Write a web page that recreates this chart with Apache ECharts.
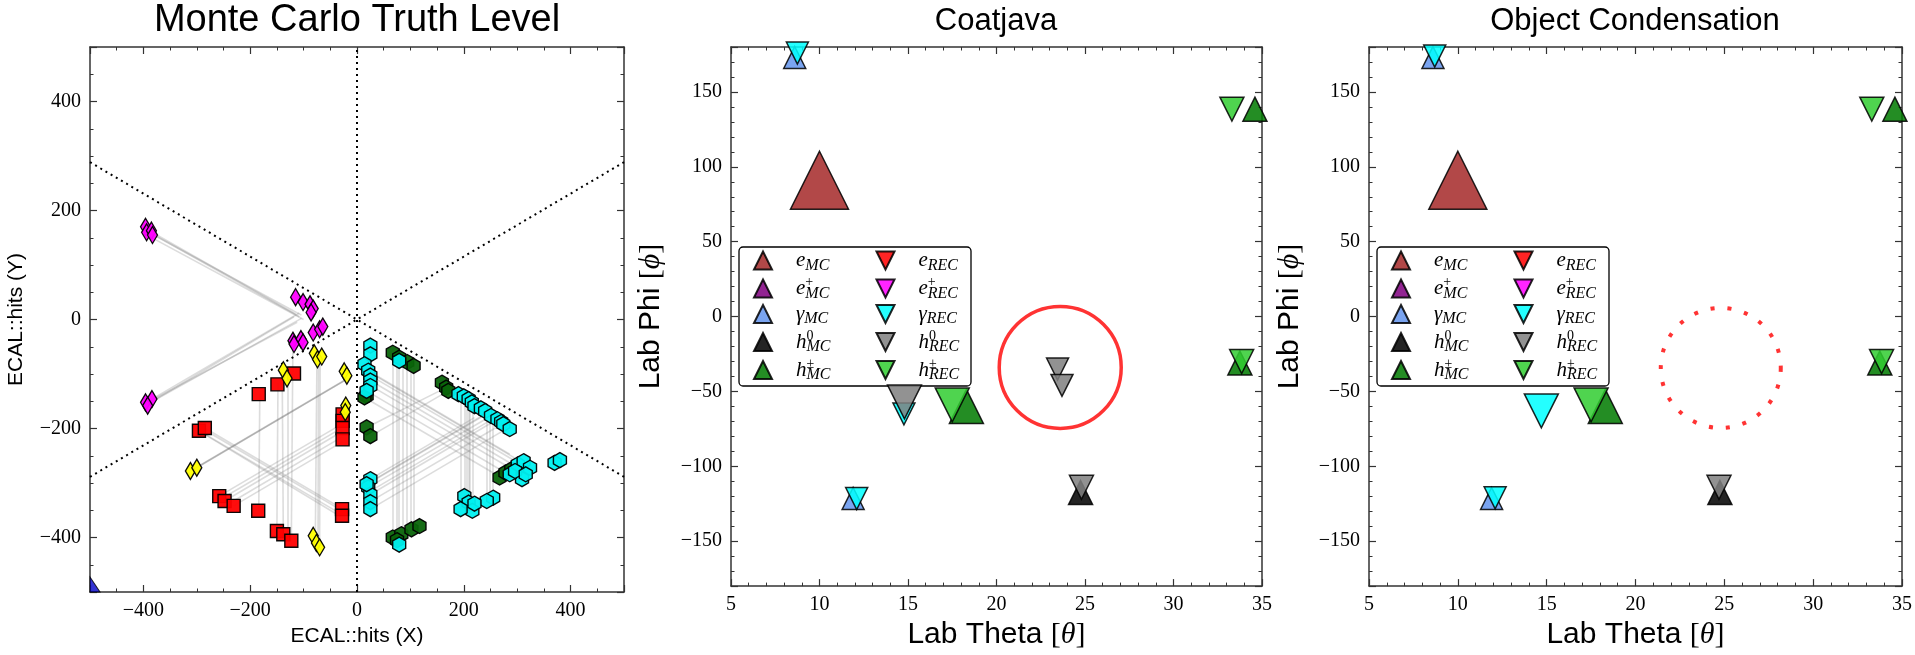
<!DOCTYPE html>
<html>
<head>
<meta charset="utf-8">
<title>ECAL hits: MC truth vs Coatjava vs Object Condensation</title>
<script src="https://cdn.jsdelivr.net/npm/echarts@6/dist/echarts.min.js"></script>
<style>
  html, body { margin: 0; padding: 0; background: #fff; }
  #chart { width: 1915px; height: 655px; }
</style>
</head>
<body>
<div id="chart"></div>
<script>
// ---------- panel 1: ECAL hits (x, y) per MC particle ----------
const redHits = [
  [-118, -99], [-149, -119], [-184, -137], [-296, -204], [-285, -199],
  [-27, -174], [-27, -186], [-27, -199], [-27, -220],
  [-258, -324], [-248, -333], [-231, -342], [-185, -351],
  [-150, -388], [-138, -394], [-123, -406], [-28, -348], [-28, -360]
]
const yellowHits = [
  [-80, -62], [-74, -73], [-66, -68], [-24, -95], [-19, -103],
  [-138, -93], [-131, -108], [-21, -158], [-22, -170],
  [-312, -278], [-300, -272], [-82, -397], [-76, -410], [-70, -418]
]
const magentaHits = [
  [-396, 170], [-394, 160], [-385, 163], [-383, 155],
  [-115, 41], [-101, 32], [-88, 28], [-82, 20], [-86, 13],
  [-120, -39], [-105, -36], [-101, -42], [-118, -45], [-82, -24], [-70, -18], [-64, -13],
  [-396, -152], [-384, -146], [-392, -158]
]
const cyanHits = [
  [25, -48], [25, -64], [14, -82], [21, -94], [25, -103], [25, -112], [25, -122], [18, -131], [79, -76],
  [190, -137], [200, -141], [209, -146], [215, -152], [220, -159], [232, -163], [240, -168],
  [251, -177], [263, -183], [270, -188], [274, -192], [286, -201],
  [301, -266], [312, -260], [324, -272], [309, -293], [286, -284], [296, -278], [316, -284],
  [370, -263], [380, -258],
  [201, -324], [209, -336], [216, -351], [194, -348], [255, -327], [243, -333], [220, -338],
  [25, -293], [21, -308], [25, -321], [25, -335], [25, -348], [18, -302], [79, -413]
]
const greenHits = [
  [67, -61], [79, -70], [94, -78], [106, -85], [18, -140], [14, -143],
  [18, -198], [25, -214], [159, -116], [167, -125], [171, -131],
  [267, -290], [278, -281], [289, -275],
  [67, -400], [83, -394], [102, -385], [117, -379], [75, -405]
]
const blueHits = [[-500, -500]]

// matched hit pairs between views [x1, y1, x2, y2]
const hitLinks = [
  [-392, 165, -115, 10], [-385, 158, -108, 5], [-388, 152, -100, 0], [-390, 160, -104, 8],
  [-392, -155, -118, 5], [-384, -146, -108, 12], [-388, -150, -112, -5], [-386, -152, -104, 2],
  [-182, -135, -184, -351], [-148, -117, -150, -388], [-140, -110, -138, -394], [-130, -100, -130, -400],
  [-120, -40, -123, -406], [-75, -70, -78, -397], [-69, -65, -70, -418], [-72, -68, -73, -408],
  [-296, -204, -28, -358], [-285, -199, -28, -347], [-290, -208, -30, -362], [-290, -200, -24, -353],
  [-312, -278, -21, -110], [-300, -272, -25, -113], [-306, -275, -18, -109],
  [-258, -324, -27, -191], [-248, -333, -27, -205], [-231, -342, -27, -224],
  [-252, -328, -25, -197], [-240, -338, -27, -215],
  [67, -61, 67, -400], [79, -70, 79, -413], [94, -78, 94, -385], [106, -85, 106, -379], [75, -66, 75, -405],
  [86, -72, 86, -395], [100, -80, 100, -382],
  [194, -137, 194, -348], [201, -141, 201, -324], [209, -146, 209, -336],
  [216, -152, 216, -351], [243, -168, 243, -333], [255, -177, 255, -327],
  [205, -143, 205, -330], [212, -149, 212, -343], [249, -172, 249, -330],
  [25, -103, 300, -262], [25, -112, 312, -278], [21, -94, 286, -247], [18, -131, 290, -288], [14, -143, 270, -290],
  [25, -98, 295, -254], [23, -120, 305, -283],
  [25, -293, 220, -180], [21, -308, 251, -177], [25, -321, 263, -183], [25, -348, 286, -197], [18, -302, 232, -178],
  [23, -300, 240, -175], [25, -315, 257, -181], [23, -335, 275, -190],
  [18, -198, 167, -125], [25, -214, 171, -131]
]
// ECAL sector boundaries
const sectorLines = [
  [0, -500, 0, 500], [-500, 288.7, 500, -288.7], [-500, -288.7, 500, 288.7]
]

// ---------- panels 2/3: (theta, phi, energy) ----------
const eMC = [[10.0, 91, 6.0]]
const ePlusMC = []
const gammaMC = [[8.6, 173, 1.5], [11.9, -121.5, 1.5]]
const h0MC = [[24.75, -117.5, 1.75]]
const hpmMC = [[34.6, 138.5, 1.75], [18.3, -60, 3.0], [33.75, -31, 1.75]]

const eREC = []
const ePlusREC = []
const hpmREC = [[33.3, 138.5, 1.75], [17.5, -59, 3.0], [33.85, -30, 1.75]]

const gammaCoat = [[8.75, 176, 1.5], [12.1, -121.5, 1.5], [14.77, -65, 1.5]]
const h0Coat = [[24.8, -114, 1.75], [14.8, -57, 3.0], [23.45, -35, 1.5], [23.7, -46, 1.5]]
const gammaOC = [[8.7, 174, 1.5], [12.1, -121, 1.5], [14.7, -63, 3.0]]
const h0OC = [[24.7, -114, 1.75]]

const missedCoat = [[23.6, -34]]
const missedOC = [[24.8, -34.3]]

const legendNames = ['eMC', 'ePlusMC', 'gMC', 'h0MC', 'hpmMC', 'eREC', 'ePlusREC', 'gREC', 'h0REC', 'hpmREC']
const legendLabels = {
  eMC: '{g| }{m|e}{sb|MC}', ePlusMC: '{g| }{m|e}{sp|+}{sb|MC}', gMC: '{g| }{m|γ}{sb|MC}',
  h0MC: '{g| }{m|h}{sp|0}{sb|MC}', hpmMC: '{g| }{m|h}{sp|±}{sb|MC}',
  eREC: '{g| }{m|e}{sr|REC}', ePlusREC: '{g| }{m|e}{sp|+}{sr|REC}', gREC: '{g| }{m|γ}{sr|REC}',
  h0REC: '{g| }{m|h}{sp|0}{sr|REC}', hpmREC: '{g| }{m|h}{sp|±}{sr|REC}'
}

const SANS = 'Liberation Sans, Arial, sans-serif'
const SERIF = 'Liberation Serif, DejaVu Serif, serif'
const DOWN = 'path://M0,0 L2,0 L1,2 Z'
const HEX = 'path://M0,-1 L0.866,-0.5 L0.866,0.5 L0,1 L-0.866,0.5 L-0.866,-0.5 Z'
const CORNER = 'path://M0,0 L0,2 L1,2 Z'

const fmtNum = (v) => (v < 0 ? '\u2212' + Math.abs(v) : String(v))
const sizeOf = (d) => 10 + 8 * d[2]

// major + minor ticks on all four sides of a grid
function sideAxes(dim, grid, lo, hi, major, minor, name, nameGap, nameStyle) {
  const sides = dim === 'x' ? ['bottom', 'top'] : ['left', 'right']
  const majorOpt = lo % major === 0 ? { interval: major } : { splitNumber: Math.round((hi - lo) / major) }
  const out = []
  sides.forEach((pos, i) => {
    out.push(Object.assign({
      type: 'value', gridIndex: grid, position: pos, min: lo, max: hi,
      axisLine: { show: true, onZero: false, lineStyle: { color: '#333', width: 1.5 } },
      axisTick: { show: true, inside: true, length: 7, lineStyle: { color: '#333', width: 1.2 } },
      axisLabel: {
        show: i === 0, margin: 9, color: '#000', fontFamily: SERIF, fontSize: 20,
        formatter: (v) => (Math.abs(v % major) < 1e-9 ? fmtNum(v) : '')
      },
      splitLine: { show: false },
      name: i === 0 ? name : '',
      nameLocation: 'middle', nameGap: nameGap,
      nameTextStyle: nameStyle
    }, majorOpt))
    out.push({
      type: 'value', gridIndex: grid, position: pos, min: lo, max: hi, interval: minor,
      axisLine: { show: false, onZero: false },
      axisTick: { show: true, inside: true, length: 3.5, lineStyle: { color: '#333', width: 1 } },
      axisLabel: { show: false },
      splitLine: { show: false }
    })
  })
  return out
}

const labStyle = (size) => ({
  color: '#000',
  rich: {
    s: { fontFamily: SANS, fontSize: size, color: '#000' },
    r: { fontFamily: SERIF, fontSize: size, color: '#000' },
    i: { fontFamily: SERIF, fontSize: size, fontStyle: 'italic', color: '#000' }
  }
})
const ecalStyle = { fontFamily: SANS, fontSize: 21, color: '#000' }

const grids = [
  { left: 90, top: 47, width: 534, height: 545 },
  { left: 731, top: 47, width: 531, height: 545 },
  { left: 1369, top: 47, width: 533, height: 545 }
]

const xAxes = [].concat(
  sideAxes('x', 0, -500, 500, 200, 50, 'ECAL::hits (X)', 33, ecalStyle),
  sideAxes('x', 1, 5, 35, 5, 1, '{s|Lab Theta }{r|[}{i|θ}{r|]}', 30, labStyle(30)),
  sideAxes('x', 2, 5, 35, 5, 1, '{s|Lab Theta }{r|[}{i|θ}{r|]}', 30, labStyle(30))
)
const yAxes = [].concat(
  sideAxes('y', 0, -500, 500, 200, 50, 'ECAL::hits (Y)', 63, ecalStyle),
  sideAxes('y', 1, -180, 180, 50, 10, '{s|Lab Phi }{r|[}{i|ϕ}{r|]}', 65, labStyle(30)),
  sideAxes('y', 2, -180, 180, 50, 10, '{s|Lab Phi }{r|[}{i|ϕ}{r|]}', 64, labStyle(30))
)

function hitSeries(name, data, symbol, size, color) {
  return {
    type: 'scatter', name: name, xAxisIndex: 0, yAxisIndex: 0, data: data,
    symbol: symbol, symbolSize: size, symbolKeepAspect: true, z: 3,
    itemStyle: { color: color, borderColor: '#000', borderWidth: 1.4, opacity: 0.95 },
    emphasis: { disabled: true }
  }
}

function particleSeries(grid, name, data, up, color) {
  return {
    type: 'scatter', name: name, xAxisIndex: grid * 4, yAxisIndex: grid * 4, data: data,
    symbol: up ? 'triangle' : DOWN, symbolSize: sizeOf, z: 4,
    itemStyle: { color: color, borderColor: '#000', borderWidth: 1.5, opacity: 0.86 },
    emphasis: { disabled: true }
  }
}

function panelSeries(grid, gammaRec, h0Rec) {
  return [
    particleSeries(grid, 'eMC', eMC, true, '#a52a2a'),
    particleSeries(grid, 'ePlusMC', ePlusMC, true, '#800080'),
    particleSeries(grid, 'gMC', gammaMC, true, '#6495ed'),
    particleSeries(grid, 'h0MC', h0MC, true, '#000000'),
    particleSeries(grid, 'hpmMC', hpmMC, true, '#007a00'),
    particleSeries(grid, 'eREC', eREC, false, '#ff0000'),
    particleSeries(grid, 'ePlusREC', ePlusREC, false, '#ff00ff'),
    particleSeries(grid, 'gREC', gammaRec, false, '#00ffff'),
    particleSeries(grid, 'h0REC', h0Rec, false, '#808080'),
    particleSeries(grid, 'hpmREC', hpmREC, false, '#32cd32')
  ]
}

function legendFor(left) {
  return {
    data: legendNames, orient: 'vertical', left: left, top: 247, height: 140,
    padding: [3, 6, 3, 14], itemGap: 2, itemWidth: 18, itemHeight: 18,
    backgroundColor: 'rgba(255,255,255,0.85)', borderColor: '#000', borderWidth: 1.3, borderRadius: 4,
    selectedMode: false,
    formatter: (n) => legendLabels[n],
    textStyle: {
      color: '#000',
      rich: {
        g: { fontSize: 10, width: 19, lineHeight: 26 },
        m: { fontFamily: SERIF, fontStyle: 'italic', fontSize: 21, lineHeight: 26, color: '#000' },
        sp: { fontFamily: SERIF, fontSize: 14, lineHeight: 12, width: 0, verticalAlign: 'top', color: '#000' },
        sb: { fontFamily: SERIF, fontStyle: 'italic', fontSize: 16, lineHeight: 15, width: 67, verticalAlign: 'bottom', color: '#000' },
        sr: { fontFamily: SERIF, fontStyle: 'italic', fontSize: 16, lineHeight: 15, width: 36, verticalAlign: 'bottom', color: '#000' }
      }
    }
  }
}

const series = [
  {
    type: 'lines', coordinateSystem: 'cartesian2d', xAxisIndex: 0, yAxisIndex: 0, silent: true, z: 1,
    data: hitLinks.map((s) => ({ coords: [[s[0], s[1]], [s[2], s[3]]] })),
    lineStyle: { color: '#777', width: 1.6, opacity: 0.26 }
  },
  {
    type: 'lines', coordinateSystem: 'cartesian2d', xAxisIndex: 0, yAxisIndex: 0, silent: true, z: 2,
    data: sectorLines.map((s) => ({ coords: [[s[0], s[1]], [s[2], s[3]]] })),
    lineStyle: { color: '#000', width: 2, type: [2, 4], opacity: 1 }
  },
  hitSeries('e', redHits, 'rect', 13, '#ff0000'),
  hitSeries('gYellow', yellowHits, 'diamond', [10, 17], '#ffff00'),
  hitSeries('gMagenta', magentaHits, 'diamond', [10, 17], '#ff00ff'),
  hitSeries('hpm', greenHits, HEX, 15, '#0a640a'),
  hitSeries('h0', cyanHits, HEX, 15, '#00f0f0'),
  {
    type: 'scatter', name: 'beam', xAxisIndex: 0, yAxisIndex: 0, data: blueHits, z: 3,
    symbol: CORNER, symbolSize: [10, 15], symbolOffset: [5, -7.5], silent: true,
    itemStyle: { color: '#0000c8', borderColor: '#000', borderWidth: 1 }
  },
  ...panelSeries(1, gammaCoat, h0Coat),
  ...panelSeries(2, gammaOC, h0OC),
  {
    type: 'scatter', name: 'missedCoat', xAxisIndex: 4, yAxisIndex: 4, data: missedCoat, z: 5,
    symbol: 'circle', symbolSize: 122, silent: true,
    itemStyle: { color: 'rgba(0,0,0,0)', borderColor: '#ff0000', borderWidth: 3.5 }
  },
  {
    type: 'scatter', name: 'missedOC', xAxisIndex: 8, yAxisIndex: 8, data: missedOC, z: 5,
    symbol: 'circle', symbolSize: 120, silent: true,
    itemStyle: { color: 'rgba(0,0,0,0)', borderColor: '#ff0000', borderWidth: 4, borderType: [4, 13] }
  }
]

const titleStyle = (size) => ({ fontFamily: SANS, fontSize: size, fontWeight: 'normal', color: '#000' })

const chart = echarts.init(document.getElementById('chart'), null, { renderer: 'canvas' })
chart.setOption({
  animation: false,
  backgroundColor: '#fff',
  title: [
    { text: 'Monte Carlo Truth Level', left: 357, top: 2, textAlign: 'center', padding: 0, textStyle: titleStyle(38) },
    { text: 'Coatjava', left: 996, top: 6, textAlign: 'center', padding: 0, textStyle: titleStyle(31) },
    { text: 'Object Condensation', left: 1635, top: 6, textAlign: 'center', padding: 0, textStyle: titleStyle(31) }
  ],
  legend: [legendFor(739), legendFor(1377)],
  grid: grids,
  xAxis: xAxes,
  yAxis: yAxes,
  series: series
})
</script>
</body>
</html>
